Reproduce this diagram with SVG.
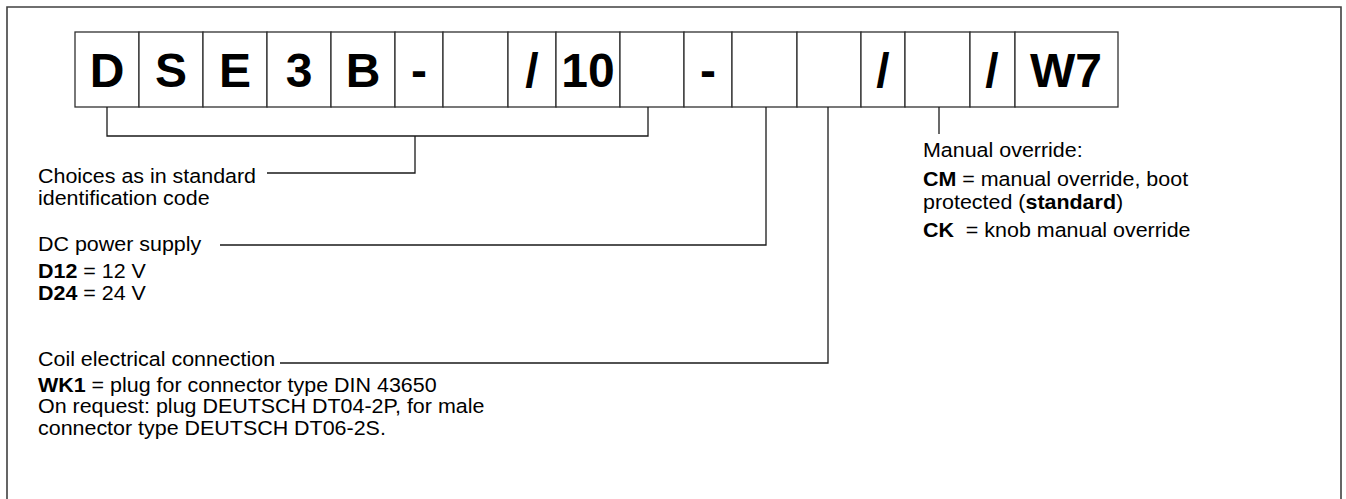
<svg xmlns="http://www.w3.org/2000/svg" width="1346" height="499" viewBox="0 0 1346 499">
<style>
.frame{fill:none;stroke:#404040;stroke-width:1.6}
.cell{fill:#fff;stroke:#303030;stroke-width:1.3}
.big{font-family:"Liberation Sans",Arial,sans-serif;font-weight:bold;font-size:48px;fill:#000;text-anchor:middle}
.t{font-family:"Liberation Sans",Arial,sans-serif;font-size:19.5px;fill:#000}
.b{font-weight:bold}
.ln{fill:none;stroke:#1a1a1a;stroke-width:1.3}
</style>
<rect width="1346" height="499" fill="#fff"/>
<path class="frame" d="M7,510 V7 H1341 V510"/>
<g id="code">
<g id="c1"><rect class="cell" x="75" y="32" width="64" height="75"/><text class="big" x="107" y="87">D</text></g>
<g id="c2"><rect class="cell" x="139" y="32" width="64" height="75"/><text class="big" x="171" y="87">S</text></g>
<g id="c3"><rect class="cell" x="203" y="32" width="64" height="75"/><text class="big" x="235" y="87">E</text></g>
<g id="c4"><rect class="cell" x="267" y="32" width="64" height="75"/><text class="big" x="299" y="87">3</text></g>
<g id="c5"><rect class="cell" x="331" y="32" width="64" height="75"/><text class="big" x="363" y="87">B</text></g>
<g id="c6"><rect class="cell" x="395" y="32" width="48" height="75"/><text class="big" x="419" y="87">-</text></g>
<g id="c7"><rect class="cell" x="443" y="32" width="65" height="75"/></g>
<g id="c8"><rect class="cell" x="508" y="32" width="48" height="75"/><text class="big" x="532" y="87">/</text></g>
<g id="c9"><rect class="cell" x="556" y="32" width="64" height="75"/><text class="big" x="588" y="87">10</text></g>
<g id="c10"><rect class="cell" x="620" y="32" width="64" height="75"/></g>
<g id="c11"><rect class="cell" x="684" y="32" width="48" height="75"/><text class="big" x="708" y="87">-</text></g>
<g id="c12"><rect class="cell" x="732" y="32" width="65" height="75"/></g>
<g id="c13"><rect class="cell" x="797" y="32" width="64" height="75"/></g>
<g id="c14"><rect class="cell" x="861" y="32" width="44" height="75"/><text class="big" x="883" y="87">/</text></g>
<g id="c15"><rect class="cell" x="905" y="32" width="65" height="75"/></g>
<g id="c16"><rect class="cell" x="970" y="32" width="45" height="75"/><text class="big" x="992" y="87">/</text></g>
<g id="c17"><rect class="cell" x="1015" y="32" width="103" height="75"/><text class="big" x="1066" y="87">W7</text></g>
</g>
<g id="connectors">
<path class="ln" d="M107,107 V136 H648 V107"/>
<path class="ln" d="M415,136 V173 H267"/>
<path class="ln" d="M766,107 V245 H220"/>
<path class="ln" d="M828,107 V363 H280"/>
<path class="ln" d="M939,107 V134"/>
</g>
<g id="choices" transform="matrix(1.1,0,0,1,-3.8,0)">
<text class="t" x="38" y="183">Choices as in standard</text>
<text class="t" x="38" y="205">identification code</text>
</g>
<g id="power" transform="matrix(1.1,0,0,1,-3.8,0)">
<text class="t" x="38" y="251">DC power supply</text>
<text class="t" x="38" y="278"><tspan class="b">D12</tspan> = 12 V</text>
<text class="t" x="38" y="300"><tspan class="b">D24</tspan> = 24 V</text>
</g>
<g id="coil" transform="matrix(1.1,0,0,1,-3.8,0)">
<text class="t" x="38" y="366">Coil electrical connection</text>
<text class="t" x="38" y="392"><tspan class="b">WK1</tspan> = plug for connector type DIN 43650</text>
<text class="t" x="38" y="413.5">On request: plug DEUTSCH DT04-2P, for male</text>
<text class="t" x="38" y="435">connector type DEUTSCH DT06-2S.</text>
</g>
<g id="override" transform="matrix(1.1,0,0,1,-92.3,0)">
<text class="t" x="923" y="157">Manual override:</text>
<text class="t" x="923" y="186"><tspan class="b">CM</tspan> = manual override, boot</text>
<text class="t" x="923" y="209">protected (<tspan class="b">standard</tspan>)</text>
<text class="t" x="923" y="237" xml:space="preserve"><tspan class="b">CK</tspan>  = knob manual override</text>
</g>
</svg>
